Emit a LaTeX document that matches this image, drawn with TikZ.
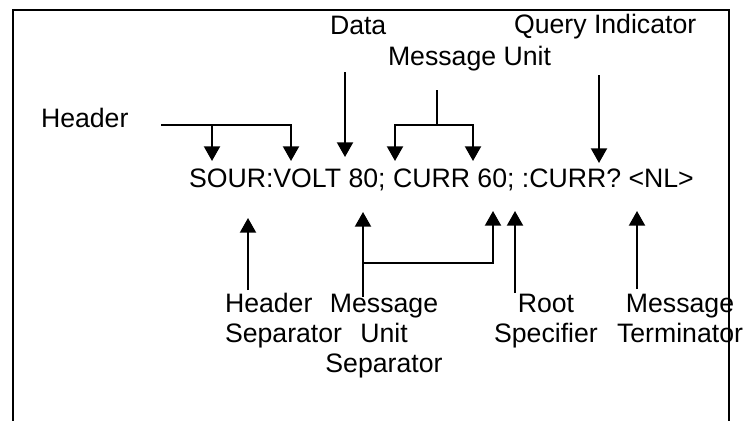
\documentclass[tikz,border=0pt]{standalone}
\usepackage{fontspec}
\setmainfont{Liberation Sans}
\usetikzlibrary{arrows.meta}

\begin{document}
\begin{tikzpicture}[x=0.75pt, y=-0.75pt, line width=1.5pt,
    lbl/.style={inner sep=0pt, font=\fontsize{20}{22.5}\selectfont},
    pointer/.style={-{Triangle[length=11pt, width=12pt]}}]
    \useasboundingbox (0,0) rectangle (743,421);

    % Frame (open at the bottom)
    \draw (12.7,421) -- (12.7,9.5) -- (729,9.5) -- (729,421);

    % Command string
    \node[lbl, anchor=base west] (cmd) at (188,187) {SOUR:VOLT 80; CURR 60; :CURR? <NL>};

    % Labels above the string
    \node[lbl, anchor=base west] (header) at (40,127) {Header};
    \node[lbl, anchor=base west] (data) at (329,34) {Data};
    \node[lbl, anchor=base west] (msgunit) at (387,65) {Message Unit};
    \node[lbl, anchor=base west] (query) at (513,33) {Query Indicator};

    % Labels below the string (base = last line)
    \node[lbl, anchor=base west, align=left] (hdrsep) at (224,342) {Header\\Separator};
    \node[lbl, anchor=base, align=center] (unitsep) at (384,372) {Message\\Unit\\Separator};
    \node[lbl, anchor=base, align=center] (root) at (546,342) {Root\\Specifier};
    \node[lbl, anchor=base, align=center] (term) at (680,342) {Message\\Terminator};

    % Arrow ends
    \coordinate (h0) at (161,125);
    \coordinate (h1) at (212,125);
    \coordinate (h2) at (291,125);
    \coordinate (d0) at (345,72);
    \coordinate (d1) at (345,157);
    \coordinate (m0) at (437,90);
    \coordinate (m1) at (437,125);
    \coordinate (q0) at (599,75);
    \coordinate (q1) at (599,163);
    \coordinate (hs0) at (248,290);
    \coordinate (hs1) at (248,218);
    \coordinate (us0) at (363,297);
    \coordinate (us1) at (363,212);
    \coordinate (us2) at (363,263);
    \coordinate (r0) at (515,293);
    \coordinate (r1) at (515,211);
    \coordinate (t0) at (637,289);
    \coordinate (t1) at (637,211);

    % Arrows pointing down
    \draw[pointer] (h0) -- (h2) -- ++(0,36);
    \draw[pointer] (h1) -- ++(0,36);
    \draw[pointer] (d0) -- (d1);
    \draw[pointer] (m0) -- (m1) -| (395,161);
    \draw[pointer] (m1) -| (473,161);
    \draw[pointer] (q0) -- (q1);

    % Arrows pointing up
    \draw[pointer] (hs0) -- (hs1);
    \draw[pointer] (us0) -- (us1);
    \draw[pointer] (us2) -| (493,211);
    \draw[pointer] (r0) -- (r1);
    \draw[pointer] (t0) -- (t1);
\end{tikzpicture}
\end{document}
